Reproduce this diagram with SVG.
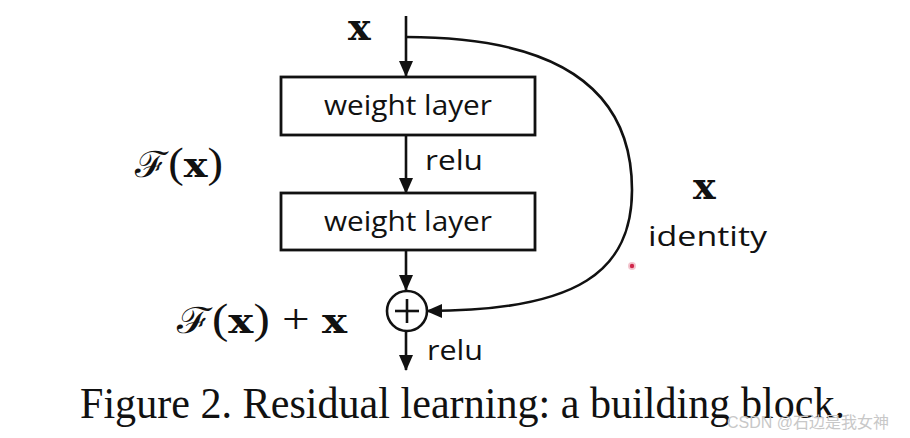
<svg xmlns="http://www.w3.org/2000/svg" width="910" height="438" viewBox="0 0 910 438">
<style>
.ln{fill:none;stroke:#111;stroke-width:2.6}
.box{fill:#fff;stroke:#111;stroke-width:2.8}
.lbl{font-family:"Open Sans","Liberation Sans",sans-serif;font-size:27px;fill:#111}
.bx{font-family:"DejaVu Serif","Liberation Serif",serif;font-weight:bold;fill:#111}
.math{font-family:"Liberation Serif","DejaVu Serif",serif;fill:#111}
.cap{font-family:"Liberation Serif","Times New Roman",serif;font-size:45px;fill:#111}
</style>
<defs>
<marker id="ah" markerWidth="16" markerHeight="14" refX="15" refY="7" orient="auto" markerUnits="userSpaceOnUse">
<path d="M0,0 L16,7 L0,14 Z" fill="#111"/>
</marker>
</defs>
<rect width="910" height="438" fill="#fff"/>
<g id="connectors">
<line class="ln" x1="406" y1="16" x2="406" y2="76" marker-end="url(#ah)"/>
<line class="ln" x1="406" y1="135" x2="406" y2="193" marker-end="url(#ah)"/>
<line class="ln" x1="406" y1="250" x2="406" y2="290" marker-end="url(#ah)"/>
<line class="ln" x1="406" y1="332" x2="406" y2="370" marker-end="url(#ah)"/>
<path class="ln" d="M406 37 C560 37 632 90 632 190 C632 270 580 311 427 311" marker-end="url(#ah)"/>
</g>
<g id="input-x"><text class="bx" x="348" y="40" font-size="38">x</text></g>
<g id="weight-layer-1">
<rect class="box" x="281" y="77" width="254" height="58"/>
<text class="lbl" x="408" y="115" text-anchor="middle" textLength="168" lengthAdjust="spacingAndGlyphs">weight layer</text>
</g>
<g id="relu-1"><text class="lbl" x="425" y="170" textLength="58" lengthAdjust="spacingAndGlyphs">relu</text></g>
<g id="Fx-label"><text class="math" x="135" y="177" font-size="42" textLength="88" lengthAdjust="spacingAndGlyphs"><tspan font-family="DejaVu Serif" font-size="36">ℱ</tspan>(<tspan class="bx" font-size="36">x</tspan>)</text></g>
<g id="weight-layer-2">
<rect class="box" x="281" y="193" width="254" height="57"/>
<text class="lbl" x="408" y="231" text-anchor="middle" textLength="168" lengthAdjust="spacingAndGlyphs">weight layer</text>
</g>
<g id="sum">
<circle cx="407" cy="311" r="20" fill="#fff" stroke="#111" stroke-width="2.6"/>
<line class="ln" x1="395" y1="311" x2="419" y2="311"/>
<line class="ln" x1="407" y1="299" x2="407" y2="323"/>
</g>
<g id="Fx-plus-x"><text class="math" x="177" y="333" font-size="42" textLength="170" lengthAdjust="spacingAndGlyphs"><tspan font-family="DejaVu Serif" font-size="36">ℱ</tspan>(<tspan class="bx" font-size="36">x</tspan>) + <tspan class="bx" font-size="36">x</tspan></text></g>
<g id="relu-2"><text class="lbl" x="427" y="360" textLength="56" lengthAdjust="spacingAndGlyphs">relu</text></g>
<g id="identity">
<text class="bx" x="693" y="199" font-size="38">x</text>
<text class="lbl" x="648" y="246" textLength="119" lengthAdjust="spacingAndGlyphs">identity</text>
</g>
<circle cx="632" cy="266" r="4" fill="#f3c6cf"/>
<circle cx="632" cy="266" r="2.2" fill="#d0264a"/>
<g id="caption"><text class="cap" x="80" y="418" textLength="765" lengthAdjust="spacingAndGlyphs">Figure 2. Residual learning: a building block.</text></g>
<text x="727" y="428" font-family="'Liberation Sans','Noto Sans CJK SC',sans-serif" font-size="16" fill="#c8c8c8">CSDN @石边是我女神</text>
</svg>
